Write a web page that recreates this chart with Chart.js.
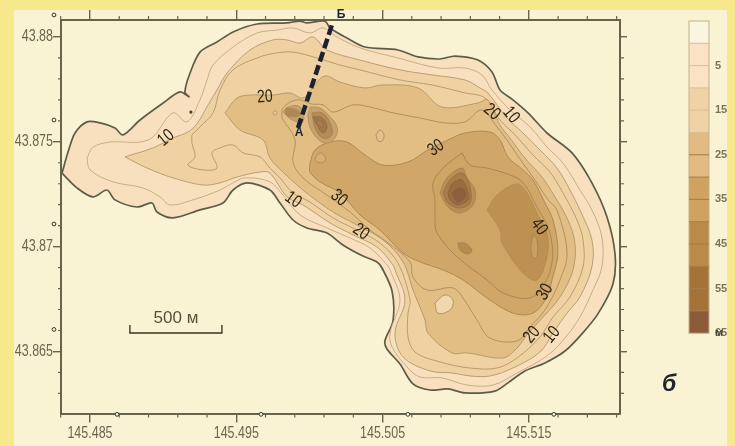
<!DOCTYPE html>
<html>
<head>
<meta charset="utf-8">
<style>
  html, body { margin: 0; padding: 0; width: 735px; height: 446px; overflow: hidden; background: #f8e88c; }
  #panel { position: absolute; left: 14px; top: 10px; width: 713px; height: 436px; background: #faf3d3; }
  #map { position: absolute; left: 0; top: 0; filter: blur(0.35px); }
</style>
<script src="https://cdn.jsdelivr.net/npm/chart.js@4/dist/chart.umd.min.js"></script>
</head>
<body>
<div id="panel"></div>
<canvas id="map" width="735" height="446"></canvas>
<script>
// axis ticks
const lonTicks = [145.485, 145.495, 145.505, 145.515];
const latTicks = [43.865, 43.87, 43.875, 43.88];
const lonMinor = [145.483, 145.487, 145.489, 145.491, 145.493, 145.497, 145.499, 145.501, 145.503, 145.507, 145.509, 145.511, 145.513, 145.517, 145.519, 145.521];
const latMinor = [43.863, 43.864, 43.866, 43.867, 43.868, 43.869, 43.871, 43.872, 43.873, 43.874, 43.876, 43.877, 43.878, 43.879];

// depth contours, [lon, lat]
const depth0 = [[145.48309,43.87351],[145.48350,43.87451],[145.48398,43.87542],[145.48480,43.87595],[145.48569,43.87590],[145.48671,43.87566],[145.48726,43.87533],[145.48842,43.87604],[145.49000,43.87685],[145.49115,43.87738],[145.49177,43.87714],[145.49149,43.87738],[145.49184,43.87828],[145.49252,43.87928],[145.49368,43.87976],[145.49478,43.88024],[145.49642,43.88062],[145.49847,43.88067],[145.49936,43.88076],[145.49983,43.88067],[145.50106,43.88076],[145.50141,43.88043],[145.50257,43.87995],[145.50380,43.87952],[145.50605,43.87938],[145.50742,43.87905],[145.50892,43.87895],[145.50995,43.87909],[145.51152,43.87890],[145.51248,43.87833],[145.51303,43.87747],[145.51384,43.87704],[145.51494,43.87638],[145.51624,43.87542],[145.51795,43.87447],[145.51931,43.87304],[145.52034,43.87141],[145.52089,43.86965],[145.52075,43.86822],[145.51972,43.86679],[145.51863,43.86584],[145.51747,43.86502],[145.51610,43.86445],[145.51473,43.86407],[145.51357,43.86350],[145.51268,43.86311],[145.51063,43.86302],[145.50947,43.86321],[145.50824,43.86316],[145.50708,43.86345],[145.50619,43.86440],[145.50530,43.86512],[145.50516,43.86550],[145.50571,43.86645],[145.50565,43.86788],[145.50496,43.86898],[145.50462,43.86927],[145.50366,43.86955],[145.50229,43.87008],[145.50120,43.87065],[145.49983,43.87089],[145.49888,43.87127],[145.49799,43.87208],[145.49730,43.87270],[145.49573,43.87304],[145.49478,43.87270],[145.49409,43.87208],[145.49252,43.87175],[145.49067,43.87137],[145.48958,43.87165],[145.48924,43.87208],[145.48821,43.87189],[145.48671,43.87223],[145.48616,43.87270],[145.48521,43.87237],[145.48411,43.87280]];
const depth5 = [[145.48480,43.87423],[145.48521,43.87475],[145.48637,43.87499],[145.48726,43.87499],[145.48842,43.87499],[145.48931,43.87523],[145.49067,43.87638],[145.49163,43.87595],[145.49252,43.87700],[145.49300,43.87795],[145.49341,43.87866],[145.49478,43.87952],[145.49642,43.88019],[145.49778,43.88033],[145.49888,43.88043],[145.50004,43.88019],[145.50093,43.88043],[145.50189,43.88000],[145.50346,43.87948],[145.50605,43.87900],[145.50879,43.87852],[145.51063,43.87852],[145.51179,43.87819],[145.51248,43.87747],[145.51371,43.87652],[145.51508,43.87571],[145.51624,43.87475],[145.51733,43.87399],[145.51849,43.87270],[145.51931,43.87175],[145.51999,43.87046],[145.51999,43.86903],[145.51938,43.86793],[145.51849,43.86664],[145.51747,43.86564],[145.51624,43.86479],[145.51419,43.86397],[145.51255,43.86340],[145.51077,43.86340],[145.50906,43.86374],[145.50756,43.86378],[145.50667,43.86426],[145.50565,43.86521],[145.50551,43.86588],[145.50619,43.86745],[145.50551,43.86889],[145.50530,43.86913],[145.50414,43.86994],[145.50278,43.87041],[145.50120,43.87089],[145.49936,43.87151],[145.49819,43.87246],[145.49730,43.87309],[145.49560,43.87328],[145.49478,43.87304],[145.49389,43.87270],[145.49204,43.87223],[145.49047,43.87199],[145.48979,43.87237],[145.48862,43.87280],[145.48657,43.87309],[145.48500,43.87366]];
const depth10 = [[145.48739,43.87428],[145.48931,43.87471],[145.49067,43.87518],[145.49170,43.87547],[145.49231,43.87585],[145.49307,43.87676],[145.49368,43.87747],[145.49437,43.87828],[145.49594,43.87938],[145.49751,43.87986],[145.49847,43.87986],[145.49936,43.87971],[145.50024,43.88000],[145.50120,43.87938],[145.50346,43.87890],[145.50619,43.87843],[145.50838,43.87819],[145.51063,43.87795],[145.51166,43.87757],[145.51220,43.87733],[145.51350,43.87614],[145.51460,43.87542],[145.51576,43.87461],[145.51692,43.87375],[145.51781,43.87270],[145.51849,43.87175],[145.51931,43.87032],[145.51931,43.86903],[145.51849,43.86760],[145.51761,43.86683],[145.51665,43.86588],[145.51576,43.86497],[145.51391,43.86421],[145.51234,43.86383],[145.51098,43.86383],[145.50981,43.86397],[145.50824,43.86407],[145.50640,43.86474],[145.50585,43.86588],[145.50653,43.86745],[145.50585,43.86889],[145.50571,43.86913],[145.50462,43.86998],[145.50298,43.87056],[145.50141,43.87113],[145.49956,43.87199],[145.49847,43.87237],[145.49730,43.87351],[145.49662,43.87356],[145.49505,43.87332],[145.49389,43.87304],[145.49272,43.87294],[145.49067,43.87328],[145.48890,43.87375]];
const depth15 = [[145.49197,43.87533],[145.49197,43.87494],[145.49218,43.87428],[145.49170,43.87389],[145.49272,43.87366],[145.49368,43.87375],[145.49334,43.87447],[145.49389,43.87471],[145.49478,43.87485],[145.49546,43.87447],[145.49662,43.87428],[145.49730,43.87375],[145.49799,43.87328],[145.49888,43.87256],[145.50004,43.87213],[145.50161,43.87137],[145.50325,43.87079],[145.50482,43.87017],[145.50605,43.86922],[145.50688,43.86745],[145.50674,43.86683],[145.50674,43.86569],[145.50722,43.86497],[145.50892,43.86450],[145.51098,43.86421],[145.51282,43.86421],[145.51419,43.86469],[145.51576,43.86569],[145.51665,43.86664],[145.51781,43.86760],[145.51870,43.86903],[145.51870,43.87032],[145.51829,43.87127],[145.51733,43.87256],[145.51644,43.87356],[145.51528,43.87437],[145.51405,43.87533],[145.51303,43.87604],[145.51200,43.87709],[145.51063,43.87733],[145.50838,43.87771],[145.50619,43.87795],[145.50346,43.87843],[145.50209,43.87866],[145.50052,43.87900],[145.49888,43.87928],[145.49778,43.87924],[145.49662,43.87905],[145.49478,43.87843],[145.49389,43.87747],[145.49341,43.87638],[145.49252,43.87571]];
const depth20 = [[145.49423,43.87638],[145.49505,43.87709],[145.49594,43.87723],[145.49751,43.87723],[145.49867,43.87733],[145.49956,43.87709],[145.50024,43.87762],[145.50106,43.87814],[145.50209,43.87785],[145.50380,43.87757],[145.50496,43.87771],[145.50742,43.87757],[145.50906,43.87666],[145.51152,43.87685],[145.51220,43.87700],[145.51303,43.87580],[145.51371,43.87518],[145.51473,43.87423],[145.51590,43.87332],[145.51679,43.87237],[145.51767,43.87127],[145.51815,43.87017],[145.51802,43.86889],[145.51713,43.86760],[145.51597,43.86664],[145.51487,43.86579],[145.51419,43.86516],[145.51323,43.86469],[145.51077,43.86493],[145.50974,43.86493],[145.50810,43.86588],[145.50790,43.86650],[145.50708,43.86793],[145.50640,43.86927],[145.50503,43.87032],[145.50325,43.87103],[145.50161,43.87165],[145.49956,43.87270],[145.49819,43.87356],[145.49730,43.87423],[145.49683,43.87509],[145.49525,43.87556]];
const depth25 = [[145.49812,43.87614],[145.49819,43.87661],[145.49915,43.87700],[145.50017,43.87680],[145.50093,43.87676],[145.50161,43.87642],[145.50298,43.87676],[145.50414,43.87666],[145.50571,43.87638],[145.50756,43.87614],[145.50927,43.87590],[145.51063,43.87595],[145.51179,43.87652],[145.51282,43.87571],[145.51350,43.87509],[145.51453,43.87404],[145.51542,43.87318],[145.51631,43.87223],[145.51692,43.87175],[145.51761,43.86970],[145.51713,43.86841],[145.51610,43.86698],[145.51508,43.86617],[145.51419,43.86550],[145.51234,43.86564],[145.51145,43.86650],[145.51050,43.86755],[145.50981,43.86803],[145.50804,43.86793],[145.50708,43.86855],[145.50688,43.86927],[145.50530,43.87022],[145.50414,43.87079],[145.50278,43.87165],[145.50120,43.87246],[145.49956,43.87328],[145.49888,43.87404],[145.49901,43.87509]];
const depth30 = [[145.50004,43.87399],[145.50038,43.87461],[145.50141,43.87499],[145.50257,43.87499],[145.50380,43.87437],[145.50503,43.87389],[145.50674,43.87404],[145.50810,43.87461],[145.50947,43.87509],[145.51063,43.87542],[145.51234,43.87547],[145.51303,43.87509],[145.51357,43.87428],[145.51460,43.87366],[145.51528,43.87318],[145.51610,43.87208],[145.51665,43.87127],[145.51699,43.86970],[145.51658,43.86841],[145.51624,43.86760],[145.51528,43.86683],[145.51391,43.86683],[145.51214,43.86755],[145.51050,43.86841],[145.50913,43.86889],[145.50756,43.86927],[145.50640,43.86970],[145.50482,43.87079],[145.50346,43.87151],[145.50209,43.87256],[145.50072,43.87309],[145.50004,43.87356]];
const depth35 = [[145.51043,43.87447],[145.51098,43.87389],[145.51214,43.87375],[145.51419,43.87328],[145.51487,43.87280],[145.51555,43.87189],[145.51624,43.87103],[145.51658,43.87017],[145.51658,43.86922],[145.51610,43.86827],[145.51508,43.86755],[145.51323,43.86779],[145.51214,43.86841],[145.51009,43.86951],[145.50872,43.87065],[145.50858,43.87141],[145.50858,43.87223],[145.50845,43.87304],[145.50913,43.87375]];
const depth40 = [[145.51214,43.87175],[145.51282,43.87246],[145.51419,43.87299],[145.51487,43.87256],[145.51555,43.87161],[145.51624,43.87065],[145.51624,43.86951],[145.51555,43.86841],[145.51460,43.86874],[145.51316,43.87017],[145.51303,43.87079]];

// closed pockets inside the bands
const lensEast = [[145.51528,43.87056],[145.51555,43.87032],[145.51555,43.86951],[145.51528,43.86946],[145.51514,43.86998]];
const lensMid = [[145.51015,43.87017],[145.51063,43.87017],[145.51111,43.86984],[145.51084,43.86965],[145.51029,43.86984]];
const lensSouth = [[145.50858,43.86731],[145.50927,43.86769],[145.50981,43.86745],[145.50961,43.86698],[145.50879,43.86683]];
const ringNear = [[145.50038,43.87423],[145.50072,43.87447],[145.50106,43.87432],[145.50106,43.87408],[145.50072,43.87399],[145.50045,43.87408]];
const ringFar = [[145.50455,43.87533],[145.50482,43.87556],[145.50510,43.87533],[145.50496,43.87504],[145.50469,43.87504]];

// the deep holes
const holeA1 = [[145.50892,43.87256],[145.50940,43.87328],[145.51043,43.87375],[145.51077,43.87328],[145.51132,43.87270],[145.51118,43.87199],[145.51029,43.87161],[145.50947,43.87189]];
const holeA2 = [[145.50913,43.87256],[145.50961,43.87318],[145.51043,43.87351],[145.51098,43.87285],[145.51098,43.87208],[145.51029,43.87184],[145.50947,43.87208]];
const holeA3 = [[145.50947,43.87256],[145.50981,43.87304],[145.51043,43.87318],[145.51084,43.87261],[145.51084,43.87223],[145.51015,43.87199],[145.50961,43.87223]];
const holeA4 = [[145.50974,43.87256],[145.51015,43.87280],[145.51063,43.87270],[145.51063,43.87232],[145.51009,43.87213]];
const holeB1 = [[145.49819,43.87642],[145.49853,43.87666],[145.49936,43.87666],[145.49956,43.87595],[145.49881,43.87604]];
const holeB2 = [[145.49840,43.87661],[145.49915,43.87652],[145.49936,43.87628],[145.49888,43.87619],[145.49840,43.87628]];
const holeC1 = [[145.50004,43.87666],[145.50072,43.87661],[145.50141,43.87619],[145.50189,43.87571],[145.50175,43.87518],[145.50106,43.87494],[145.50024,43.87542],[145.49990,43.87614]];
const holeC2 = [[145.50017,43.87638],[145.50086,43.87638],[145.50141,43.87590],[145.50154,43.87533],[145.50093,43.87518],[145.50038,43.87566]];
const holeC3 = [[145.50024,43.87619],[145.50086,43.87614],[145.50120,43.87571],[145.50093,43.87542],[145.50052,43.87580]];
const holeC4 = [[145.50052,43.87604],[145.50086,43.87595],[145.50093,43.87571],[145.50059,43.87580]];

const sectionLine = [[145.49922,43.87566],[145.50161,43.88072]];
const scaleBar = [[145.48773,43.86626],[145.48773,43.86588],[145.49402,43.86588],[145.49402,43.86626]];
const axisDots = [[145.48254,43.88105],[145.48254,43.87604],[145.48254,43.87108],[145.48254,43.86605],[145.48685,43.862],[145.49669,43.862],[145.50673,43.862],[145.51671,43.862]];
const ringDot = [[145.49765,43.87638]];
const rockDot = [[145.49190,43.87642]];

// contour labels
const labelTexts = ['10', '20', '10', '30', '20', '30', '20', '10', '40', '30', '20', '10'];
const labelLons = [145.49020, 145.49696, 145.49888, 145.50202, 145.50352, 145.50865, 145.51248, 145.51378, 145.51569, 145.51610, 145.51521, 145.51658];
const labelLats = [43.87518, 43.87714, 43.87223, 43.87232, 43.87070, 43.87471, 43.87642, 43.87628, 43.87094, 43.86784, 43.86579, 43.86579];
const labelAngles = [-40, -4, 35, 40, 35, -35, 40, 50, 55, -60, -50, -50];

// colour scale
const scaleLabels = ['5', '15', '25', '35', '45', '55', '65'];
const scaleColors = ['#faf5df', '#fbe2c4', '#f0d2a4', '#e1bb82', '#cfa260', '#bb8a48', '#a57238', '#8c5c3a'];
const scaleBands = [1, 2, 2, 2, 2, 2, 2, 1];

function ring(points, fill, line, width, tension) {
  return {
    data: points.concat([points[0]]).map(p => ({ x: p[0], y: p[1] })),
    showLine: true,
    fill: fill ? 'shape' : false,
    backgroundColor: fill || 'transparent',
    borderColor: line,
    borderWidth: width,
    tension: tension,
    pointRadius: 0
  };
}

const line1 = '#ab8f64';
const sets = [
  ring(depth0, '#f8e0be', '#5d5c47', 1.7, 0.3),
  ring(depth5, '#f8e0be', '#bba27a', 0.8, 0.35),
  ring(depth10, '#f0d2a2', line1, 0.8, 0.35),
  ring(depth15, '#f0d2a2', line1, 0.8, 0.35),
  ring(depth20, '#e2bd84', line1, 0.8, 0.35),
  ring(depth25, '#e2bd84', '#a5875a', 0.8, 0.35),
  ring(depth30, '#d0a768', '#9f8050', 0.8, 0.35),
  ring(depth35, '#cfa566', '#9f8050', 0.8, 0.35),
  ring(depth40, '#bd9152', '#ab8a50', 0.7, 0.35),
  ring(lensEast, '#c9a060', '#9f8050', 0.8, 0.4),
  ring(lensMid, '#b68c4e', '#9f8050', 0.8, 0.4),
  ring(lensSouth, '#f2d6ac', '#a5875a', 0.8, 0.4),
  ring(ringNear, '#d6ae72', '#a5875a', 0.8, 0.4),
  ring(ringFar, '#e4c08a', '#a5875a', 0.8, 0.4),
  ring(holeA1, '#b98f57', '#a08050', 0.8, 0.35),
  ring(holeA2, '#a97c48', '#96703f', 0.8, 0.35),
  ring(holeA3, '#9a6d40', '#8a6238', 0.8, 0.35),
  ring(holeA4, '#8c603f', '#8a6238', 0.6, 0.4),
  ring(holeB1, '#c4a06a', '#ad8c5c', 0.8, 0.4),
  ring(holeB2, '#b08858', '#a8855a', 0.6, 0.4),
  ring(holeC1, '#c6a26c', '#ad8b5a', 0.8, 0.4),
  ring(holeC2, '#b48a55', '#a47f4c', 0.8, 0.4),
  ring(holeC3, '#a0774a', '#8f6b3e', 0.8, 0.4),
  ring(holeC4, '#a87f4f', '#8f6b3e', 0.6, 0.4)
];

const extras = [
  { data: sectionLine.map(p => ({ x: p[0], y: p[1] })), showLine: true, borderColor: '#1c2230', borderWidth: 4.5, borderDash: [10, 4], pointRadius: 0, clip: false },
  { data: scaleBar.map(p => ({ x: p[0], y: p[1] })), showLine: true, borderColor: '#3a3520', borderWidth: 1.4, pointRadius: 0 },
  { data: ringDot.map(p => ({ x: p[0], y: p[1] })), showLine: false, pointRadius: 2, pointBorderWidth: 0.8, pointBorderColor: '#b59468', pointBackgroundColor: '#e8c994' },
  { data: rockDot.map(p => ({ x: p[0], y: p[1] })), showLine: false, pointRadius: 1.6, pointBorderWidth: 0, pointBackgroundColor: '#4a3c25' }
];

const datasets = sets.concat(extras);
datasets.forEach((d, i) => { d.order = datasets.length - i; });

const axisColor = '#66654c';
const tickTextColor = '#6a664e';
const squeeze = 0.78;

// text squeezed sideways, the reference fonts are narrow
function narrowText(ctx, text, px, py, angle) {
  ctx.save();
  ctx.translate(px, py);
  if (angle) ctx.rotate(angle * Math.PI / 180);
  ctx.scale(squeeze, 1);
  ctx.fillText(text, 0, 0);
  ctx.restore();
}

const mapExtras = {
  id: 'mapExtras',
  afterDraw(chart) {
    const { ctx, scales, chartArea } = chart;
    const xs = scales.x, ys = scales.y;

    // minor ticks, the library has one tick length per axis
    ctx.save();
    ctx.strokeStyle = axisColor;
    ctx.lineWidth = 1.2;
    ctx.beginPath();
    lonMinor.forEach(v => {
      const px = xs.getPixelForValue(v);
      ctx.moveTo(px, chartArea.top); ctx.lineTo(px, chartArea.top - 4);
      ctx.moveTo(px, chartArea.bottom); ctx.lineTo(px, chartArea.bottom + 4);
    });
    latMinor.forEach(v => {
      const py = ys.getPixelForValue(v);
      ctx.moveTo(chartArea.left, py); ctx.lineTo(chartArea.left - 3, py);
      ctx.moveTo(chartArea.right, py); ctx.lineTo(chartArea.right + 4, py);
    });
    ctx.stroke();

    // small rings along the axes
    ctx.strokeStyle = '#33332a';
    ctx.lineWidth = 1;
    axisDots.forEach(p => {
      ctx.beginPath();
      ctx.arc(xs.getPixelForValue(p[0]), ys.getPixelForValue(p[1]), 1.9, 0, Math.PI * 2);
      ctx.fillStyle = '#faf3d3';
      ctx.fill();
      ctx.stroke();
    });

    // tick labels
    ctx.fillStyle = tickTextColor;
    ctx.font = "16px 'Liberation Sans', sans-serif";
    ctx.textBaseline = 'middle';
    ctx.textAlign = 'center';
    lonTicks.forEach(v => narrowText(ctx, v.toFixed(3), xs.getPixelForValue(v), 434));
    ctx.textAlign = 'right';
    latTicks.forEach(v => narrowText(ctx, String(v), 53, ys.getPixelForValue(v)));

    // labels on the contours
    ctx.fillStyle = '#2e2515';
    ctx.textAlign = 'center';
    ctx.font = "18px 'Liberation Sans', sans-serif";
    labelTexts.forEach((t, i) => {
      narrowText(ctx, t, xs.getPixelForValue(labelLons[i]), ys.getPixelForValue(labelLats[i]), labelAngles[i]);
    });

    // section ends
    ctx.fillStyle = '#1c2230';
    ctx.font = "bold 12px 'Liberation Sans', sans-serif";
    ctx.fillText('А', xs.getPixelForValue(145.49929), ys.getPixelForValue(43.87542));
    ctx.fillText('Б', xs.getPixelForValue(145.50216), ys.getPixelForValue(43.88105));

    ctx.fillStyle = '#56523a';
    ctx.font = "17px 'Liberation Sans', sans-serif";
    ctx.fillText('500 м', xs.getPixelForValue(145.49088), ys.getPixelForValue(43.8666));

    ctx.fillStyle = '#23232a';
    ctx.font = "italic bold 23px 'Liberation Sans', sans-serif";
    ctx.fillText('б', xs.getPixelForValue(145.52458), ys.getPixelForValue(43.8634));

    // colour scale
    const top = 21, left = 689, w = 20, step = 22.3;
    let y = top;
    scaleColors.forEach((c, i) => {
      const h = scaleBands[i] * step;
      ctx.fillStyle = c;
      ctx.fillRect(left, y, w, h);
      y += h;
    });
    ctx.strokeStyle = '#c3ae8a';
    ctx.lineWidth = 1;
    ctx.strokeRect(left, top, w, y - top);
    for (let i = 1; i < 14; i++) {
      ctx.strokeStyle = i < 6 ? '#d9bf98' : '#a67c48';
      ctx.beginPath();
      ctx.moveTo(left, top + i * step);
      ctx.lineTo(left + w, top + i * step);
      ctx.stroke();
    }
    ctx.fillStyle = '#77745a';
    ctx.textAlign = 'left';
    ctx.font = "bold 11px 'Liberation Sans', sans-serif";
    scaleLabels.forEach((t, i) => {
      ctx.fillText(t, 715, top + step * (2 * i + 2));
    });
    ctx.fillStyle = '#4a483a';
    ctx.fillText('м', 715, top + step * 14);
    ctx.restore();
  }
};

function majorGrid(len) {
  return { display: true, drawOnChartArea: false, drawTicks: true, tickLength: len, color: axisColor, lineWidth: 1.4 };
}

new Chart(document.getElementById('map').getContext('2d'), {
  type: 'scatter',
  data: { datasets },
  plugins: [mapExtras],
  options: {
    responsive: false,
    animation: false,
    layout: { padding: 0 },
    plugins: { legend: { display: false }, tooltip: { enabled: false } },
    scales: {
      x: {
        type: 'linear', position: 'bottom', min: 145.48302, max: 145.52123,
        afterBuildTicks(s) { s.ticks = lonTicks.map(v => ({ value: v })); },
        afterFit(s) { s.height = 32.5; },
        border: { color: axisColor, width: 2 },
        grid: majorGrid(9),
        ticks: { display: false }
      },
      xTop: {
        type: 'linear', position: 'top', min: 145.48302, max: 145.52123,
        afterBuildTicks(s) { s.ticks = lonTicks.map(v => ({ value: v })); },
        afterFit(s) { s.height = 20; },
        border: { color: axisColor, width: 2 },
        grid: majorGrid(10),
        ticks: { display: false }
      },
      y: {
        type: 'linear', position: 'left', min: 43.86204, max: 43.88081,
        afterBuildTicks(s) { s.ticks = latTicks.map(v => ({ value: v })); },
        afterFit(s) { s.width = 61; },
        border: { color: axisColor, width: 2 },
        grid: majorGrid(8),
        ticks: { display: false }
      },
      yRight: {
        type: 'linear', position: 'right', min: 43.86204, max: 43.88081,
        afterBuildTicks(s) { s.ticks = latTicks.map(v => ({ value: v })); },
        afterFit(s) { s.width = 115; },
        border: { color: axisColor, width: 2 },
        grid: majorGrid(7),
        ticks: { display: false }
      }
    }
  }
});
</script>
</body>
</html>
